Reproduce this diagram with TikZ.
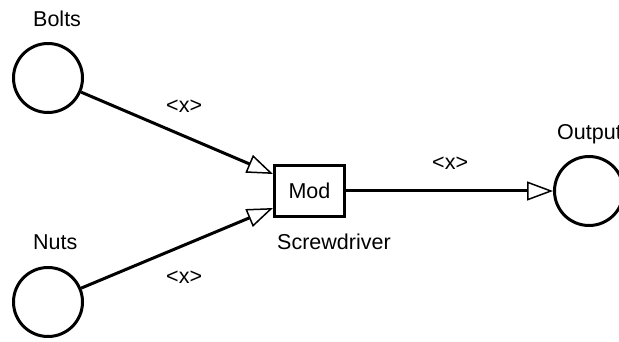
\documentclass[tikz,border=0pt]{standalone}
\usepackage{fontspec}
\setmainfont{Liberation Sans}
\usetikzlibrary{arrows.meta}
\begin{document}
\begin{tikzpicture}[x=1pt,y=-1pt,
  place/.style={draw,circle,line width=3pt,minimum size=69pt,inner sep=0pt},
  modbox/.style={draw,rectangle,line width=3pt,minimum width=70pt,minimum height=51pt,inner sep=0pt,font=\fontsize{21.5pt}{24pt}\selectfont},
  lbl/.style={anchor=base west,inner sep=0pt,font=\fontsize{21.5pt}{24pt}\selectfont},
  flow/.style={line width=3pt,-{Triangle[open,length=26pt,width=19pt,line width=1.5pt]}}]
  \useasboundingbox (0,0) rectangle (619,342);
  % places and the module
  \node[place] (bolts) at (48,78) {};
  \node[place] (nuts) at (48,302) {};
  \node[place] (out) at (589,191) {};
  \node[modbox] (mod) at (309.5,191) {Mod};
  % captions
  \node[lbl] (tb) at (33,27) {Bolts};
  \node[lbl] (tn) at (33,250) {Nuts};
  \node[lbl] (ts) at (277,250) {Screwdriver};
  \node[lbl] (to) at (557,140) {Output};
  % arc end points on the module's left side
  \coordinate (ina) at (273,174);
  \coordinate (inb) at (273,208);
  \draw[flow] (bolts) -- (ina);
  \draw[flow] (nuts) -- (inb);
  \draw[flow] (mod) -- (out);
  % arc inscriptions
  \node[lbl] (la) at (166,113) {<x>};
  \node[lbl] (lb) at (166,283) {<x>};
  \node[lbl] (lc) at (432,170) {<x>};
\end{tikzpicture}
\end{document}
